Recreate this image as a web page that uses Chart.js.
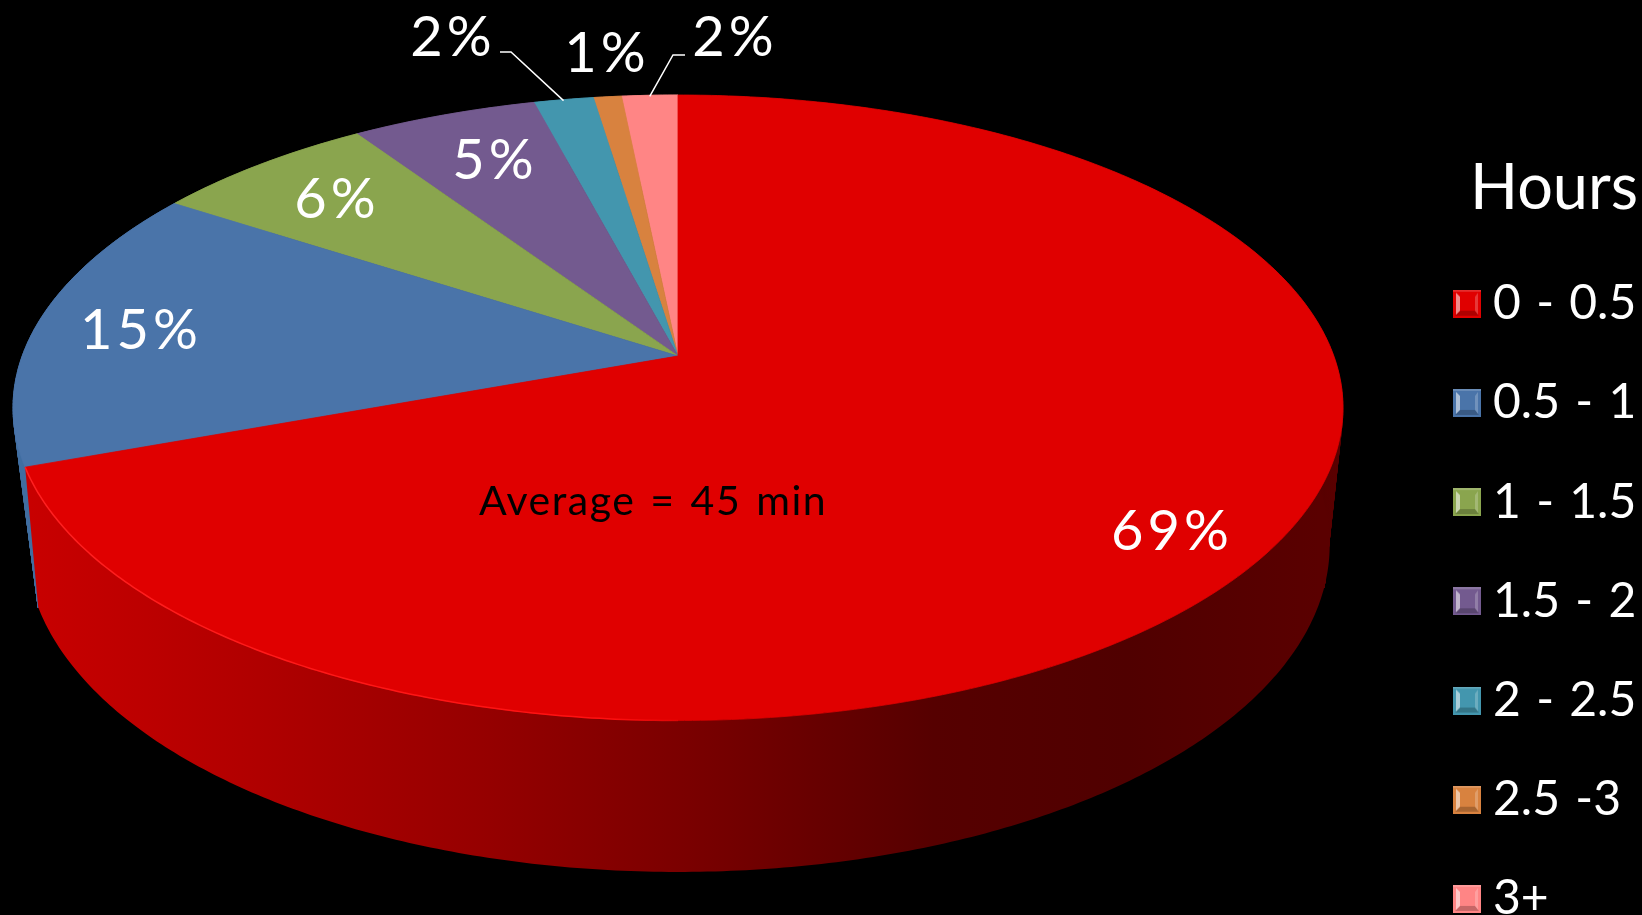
<!DOCTYPE html>
<html>
<head>
<meta charset="utf-8">
<title>Hours</title>
<script src="https://cdn.jsdelivr.net/npm/chart.js@4"></script>
<style>
    html, body { margin: 0; padding: 0; background: #000; overflow: hidden; }
    #pie { position: absolute; left: 0; top: 0; }
</style>
</head>
<body>
<canvas id="pie" width="1642" height="1000"></canvas>
<script>
// values
const hourRanges = ['0 - 0.5', '0.5 - 1', '1 - 1.5', '1.5 - 2', '2 - 2.5', '2.5 -3', '3+'];
const sharePercent = [69.4, 14.8, 6.4, 5.3, 1.7, 0.8, 1.6];
const averageNote = 'Average = 45 min';
const legendTitle = 'Hours';

// styles
const sliceColors = ['#e00000', '#4a74a9', '#8aa54e', '#735a8f', '#4396ae', '#d8823f', '#ff8585'];
const wallColors = ['#800000', '#426ea1', '#6f8a3c', '#5a4572', '#33788c', '#aa6430', '#c86868'];
const fontFamily = 'Lato, "Open Sans", sans-serif';

// where the percent labels sit (center of text, px)
const labelSpots = [[1172, 532], [141, 331], [337, 200], [495, 161], [453, 38], [607, 54], [735, 38]];
// leader lines: start of the line next to the label, then the elbow
const leaders = { 4: [[500, 52], [511, 52]], 6: [[685, 55], [673, 55]] };

// the tilted disc: perspective mapping of the unit circle to the page
const apexX = 678, apexY = 356;
const tiltC = -0.1655, tiltA = 304.2, tiltW = 655.8;
const floorY = 491, floorSx = 0.98, floorSy = 1.045;

function topPoint(angle, r = 1) {
    const u = Math.cos(angle) * r, v = Math.sin(angle) * r;
    const d = 1 + tiltC * v;
    return [apexX + tiltW * u / d, apexY + tiltA * v / d];
}

function floorPoint(angle) {
    const u = Math.cos(angle), v = Math.sin(angle);
    const d = 1 + tiltC * v;
    return [apexX + floorSx * tiltW * u / d, floorY + floorSy * tiltA * v / d];
}

function rim(fn, a0, a1) {
    const n = Math.max(2, Math.ceil((a1 - a0) / 0.01));
    const pts = [];
    for (let i = 0; i <= n; i++) pts.push(fn(a0 + (a1 - a0) * i / n));
    return pts;
}

function tracePts(ctx, pts, start) {
    pts.forEach((p, i) => {
        if (i === 0 && start) ctx.moveTo(p[0], p[1]);
        else ctx.lineTo(p[0], p[1]);
    });
}

// wall as a fan from one floor point, gives the straight silhouette at the sides
function fillFan(ctx, corner, pts) {
    ctx.strokeStyle = ctx.fillStyle;
    ctx.lineWidth = 0.6;
    for (let j = 0; j < pts.length - 1; j++) {
        ctx.beginPath();
        ctx.moveTo(corner[0], corner[1]);
        ctx.lineTo(pts[j][0], pts[j][1]);
        ctx.lineTo(pts[j + 1][0], pts[j + 1][1]);
        ctx.closePath();
        ctx.fill();
        ctx.stroke();
    }
}

function redWallGradient(ctx) {
    const g = ctx.createLinearGradient(30, 0, 1320, 0);
    g.addColorStop(0, '#c80000');
    g.addColorStop(0.15, '#b40000');
    g.addColorStop(0.35, '#960000');
    g.addColorStop(0.5, '#7c0000');
    g.addColorStop(0.7, '#560000');
    g.addColorStop(0.85, '#500000');
    g.addColorStop(1, '#5a0000');
    return g;
}

const tiltedPie = {
    id: 'tiltedPie',
    beforeDatasetsDraw(chart) {
        const ctx = chart.ctx;
        const arcs = chart.getDatasetMeta(0).data;
        ctx.save();

        // back slices
        for (let i = arcs.length - 1; i >= 1; i--) {
            const a = arcs[i];
            ctx.fillStyle = wallColors[i];
            fillFan(ctx, floorPoint(a.startAngle), rim(topPoint, a.startAngle, a.endAngle));
        }

        // big slice wall in front
        const big = arcs[0];
        ctx.fillStyle = redWallGradient(ctx);
        // right side
        fillFan(ctx, floorPoint(0.294), rim(topPoint, -0.3, 0.294));
        ctx.beginPath();
        tracePts(ctx, rim(topPoint, big.startAngle, big.endAngle), true);
        tracePts(ctx, rim(floorPoint, big.startAngle, big.endAngle).reverse(), false);
        ctx.closePath();
        ctx.fill();

        // top face, red last so its straight edges stay clean
        for (let i = arcs.length - 1; i >= 0; i--) {
            const a = arcs[i];
            ctx.beginPath();
            ctx.moveTo(apexX, apexY);
            tracePts(ctx, rim(topPoint, a.startAngle, a.endAngle), false);
            ctx.closePath();
            ctx.fillStyle = sliceColors[i];
            ctx.strokeStyle = sliceColors[i];
            ctx.lineWidth = 0.8;
            ctx.fill();
            ctx.stroke();
        }

        // lit edge along the front left of the big slice
        const edge = ctx.createLinearGradient(30, 0, 760, 0);
        edge.addColorStop(0, '#ff2020');
        edge.addColorStop(0.8, '#ff1010');
        edge.addColorStop(1, 'rgba(224,0,0,0)');
        ctx.beginPath();
        tracePts(ctx, rim(topPoint, Math.PI / 2, big.endAngle), true);
        ctx.strokeStyle = edge;
        ctx.lineWidth = 1.5;
        ctx.stroke();

        ctx.restore();
        return false; // the disc above replaces the flat arcs
    },
    afterDraw(chart) {
        const ctx = chart.ctx;
        const arcs = chart.getDatasetMeta(0).data;
        ctx.save();
        ctx.textAlign = 'center';
        ctx.textBaseline = 'middle';
        ctx.wordSpacing = '0px';

        // leader lines for the small slices
        ctx.strokeStyle = '#fff';
        ctx.lineWidth = 1.5;
        Object.keys(leaders).forEach(k => {
            const a = arcs[k];
            const end = topPoint((a.startAngle + a.endAngle) / 2);
            ctx.beginPath();
            tracePts(ctx, leaders[k], true);
            ctx.lineTo(end[0], end[1] + 1);
            ctx.stroke();
        });

        ctx.fillStyle = '#fff';
        ctx.font = '56px ' + fontFamily;
        ctx.letterSpacing = '4px';
        sharePercent.forEach((v, i) => {
            ctx.fillText(Math.round(v) + '%', labelSpots[i][0], labelSpots[i][1]);
        });

        ctx.fillStyle = '#000';
        ctx.font = '41px ' + fontFamily;
        ctx.letterSpacing = '1.5px';
        ctx.wordSpacing = '3px';
        ctx.fillText(averageNote, 653, 502);
        ctx.restore();
    }
};

// bevelled legend swatch
function swatch(color) {
    const s = 28;
    const c = document.createElement('canvas');
    c.width = s;
    c.height = s;
    const g = c.getContext('2d');
    g.fillStyle = color;
    g.fillRect(0, 0, s, s);
    g.fillStyle = 'rgba(255,255,255,0.18)';
    g.fillRect(0, 0, s, 2);
    g.fillStyle = 'rgba(0,0,0,0.22)';
    g.beginPath();
    g.moveTo(2, 26); g.lineTo(26, 26); g.lineTo(22, 21); g.lineTo(7, 21);
    g.fill();
    g.fillStyle = 'rgba(255,255,255,0.55)';
    g.beginPath();
    g.moveTo(3, 3); g.lineTo(7, 7); g.lineTo(7, 21); g.lineTo(3, 25);
    g.fill();
    g.fillStyle = 'rgba(255,255,255,0.22)';
    g.beginPath();
    g.moveTo(25, 3); g.lineTo(22, 7); g.lineTo(22, 21); g.lineTo(25, 25);
    g.fill();
    return c;
}

const swatches = sliceColors.map(swatch);

const legendPlace = {
    id: 'legendPlace',
    beforeDraw(chart) {
        chart.ctx.fillStyle = '#000';
        chart.ctx.fillRect(0, 0, chart.width, chart.height);
        chart.ctx.wordSpacing = '3px';
    },
    afterLayout(chart) {
        const l = chart.legend;
        l.left = 1413.8;
        l.right = 1638;
        l.width = l.right - l.left;
        l.top = 157.5;
    }
};

new Chart(document.getElementById('pie'), {
    type: 'pie',
    data: {
        labels: hourRanges,
        datasets: [{ data: sharePercent, backgroundColor: sliceColors, borderWidth: 0 }]
    },
    plugins: [legendPlace, tiltedPie],
    options: {
        responsive: false,
        animation: false,
        plugins: {
            tooltip: { enabled: false },
            legend: {
                display: true,
                position: 'right',
                align: 'start',
                title: {
                    display: true,
                    text: legendTitle,
                    color: '#fff',
                    position: 'end',
                    padding: { top: 0, bottom: 7 },
                    font: { family: fontFamily, size: 63, lineHeight: 1.016 }
                },
                labels: {
                    color: '#fff',
                    font: { family: fontFamily, size: 48 },
                    padding: 51.2,
                    usePointStyle: true,
                    pointStyleWidth: 4,
                    generateLabels() {
                        return hourRanges.map((t, i) => ({
                            text: t,
                            fontColor: '#fff',
                            pointStyle: swatches[i],
                            hidden: false,
                            index: i,
                            lineWidth: 0
                        }));
                    }
                }
            }
        }
    }
});
</script>
</body>
</html>
